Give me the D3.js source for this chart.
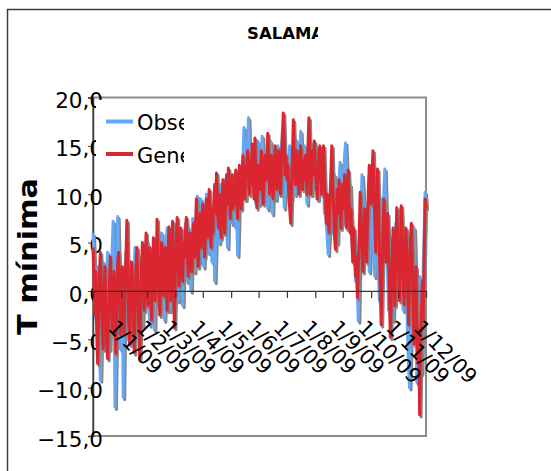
<!DOCTYPE html>
<html><head><meta charset="utf-8">
<script src="https://cdn.jsdelivr.net/npm/d3@7"></script>
<style>html,body{margin:0;padding:0;background:#fff;}svg{display:block;}</style>
</head><body>
<script>
const chartTitle = "SALAMANCA";
const yTitle = "T mínima";
const seriesNames = ["Observada", "Generada"];
const tickLabels = ["1/1/09","1/2/09","1/3/09","1/4/09","1/5/09","1/6/09","1/7/09","1/8/09","1/9/09","1/10/09","1/11/09","1/12/09"];
const yTicks = [-15, -10, -5, 0, 5, 10, 15, 20];

const observed = [
 6.0,3.5,-0.5,-3.0,1.0,2.5,-1.5,-5.5,-9.2,-4.0,0.5,3.0,-1.0,-4.5,-2.5,1.5,4.0,-0.5,-6.0,-3.0,1.0,4.5,7.2,1.0,-12.0,-6.0,2.0,7.7,3.5,-2.5,-6.0,
 -3.0,1.5,-11.0,-4.0,2.5,4.0,-1.0,-5.0,-2.0,3.0,0.5,-3.5,-5.5,-1.0,2.5,4.5,1.0,-2.5,-4.5,0.0,3.5,1.5,-2.0,-3.5,1.0,4.0,2.0,-1.5,
 5.1,2.0,-1.5,-3.5,0.5,3.5,1.0,-2.5,-4.0,0.0,4.0,5.5,2.0,-1.0,1.5,4.5,6.0,3.0,-0.5,-3.0,1.0,5.0,6.5,3.5,0.5,-2.0,2.5,5.5,7.0,3.0,-1.5,
 1.0,4.5,2.0,-1.0,3.0,6.0,4.0,0.5,-1.5,2.5,5.5,7.0,4.0,1.0,3.5,6.5,3.0,0.0,4.0,7.5,5.0,2.0,4.5,8.0,9.8,6.0,3.0,5.5,9.5,7.0,
 5.0,2.5,6.0,8.5,10.0,7.0,4.0,6.5,9.0,5.5,3.0,6.0,8.5,1.0,4.5,7.5,10.5,8.0,5.0,7.0,11.0,9.0,6.0,8.5,11.5,9.5,7.0,4.5,8.0,11.0,12.0,
 9.0,7.0,10.5,12.0,9.5,6.5,8.0,3.7,7.5,11.0,9.0,12.5,10.0,14.0,16.9,12.0,9.5,13.0,15.0,17.9,14.0,11.0,13.5,10.5,12.5,14.5,11.0,9.0,13.0,15.5,
 12.0,9.0,11.5,14.5,16.0,13.0,10.5,12.0,14.0,11.0,8.5,10.0,13.5,15.5,12.5,8.0,11.0,14.0,12.0,9.5,13.0,15.0,11.5,10.0,12.5,14.5,16.5,13.0,8.6,11.0,13.5,
 12.0,10.0,13.5,15.0,12.5,9.5,11.0,14.0,12.0,10.0,13.0,15.5,14.0,11.5,13.5,16.5,14.0,11.0,12.5,15.0,13.0,10.5,9.0,12.0,14.5,15.5,13.0,10.0,12.0,14.0,11.0,
 13.0,15.0,12.0,9.5,11.5,14.0,12.5,10.0,13.0,11.0,8.0,9.5,7.0,5.5,3.8,6.0,9.0,11.0,8.5,6.0,9.5,12.0,10.0,7.5,5.0,8.0,11.5,13.3,10.0,7.0,
 9.0,12.0,14.0,15.3,13.0,10.0,7.5,9.0,11.0,8.0,5.5,3.0,6.0,4.0,1.0,2.5,0.0,-3.1,1.5,5.0,8.5,12.0,10.5,7.0,4.0,6.5,9.0,7.5,4.5,2.0,5.0,
 8.0,10.5,7.0,4.0,1.5,5.0,8.5,6.0,2.5,-1.0,3.0,7.0,9.5,6.5,10.5,12.6,9.0,5.5,2.0,-2.0,1.5,5.5,3.0,0.0,-3.0,1.0,4.5,7.0,5.0,2.0,
 4.0,7.0,8.5,5.0,1.0,-2.0,2.5,6.0,3.5,-1.5,-5.0,-8.0,-10.0,-6.0,-2.0,1.0,4.5,6.5,3.0,-3.5,-9.5,-7.0,-2.5,1.5,-4.0,-8.5,-3.0,2.5,6.0,10.2,8.5
];

const generated = [
 4.5,1.0,-2.5,2.0,-4.0,-7.5,-3.0,1.5,4.0,0.5,-3.5,-6.0,-1.0,2.5,-2.0,-5.5,-7.0,-2.5,1.0,3.5,-1.5,-4.0,0.0,2.0,-3.0,-6.5,-1.0,3.0,4.0,0.5,-4.5,
 -2.0,2.5,-1.0,-4.5,1.0,3.5,7.3,2.0,-3.0,-5.5,0.0,3.0,1.5,-2.5,-6.4,-2.0,2.0,4.5,0.5,-3.5,-7.0,-1.5,2.5,5.0,1.0,-2.0,3.0,6.0,
 2.0,-1.5,1.5,4.5,0.5,-3.0,2.0,5.5,3.0,-1.0,2.5,7.4,4.0,0.0,-2.5,1.5,5.0,3.0,-0.5,2.0,4.5,1.0,-2.0,3.5,6.6,2.5,-1.0,4.0,7.2,1.0,-3.8,
 2.5,5.0,7.6,3.0,0.5,4.0,6.5,2.5,1.0,5.0,3.5,6.0,7.6,4.0,1.5,3.0,6.0,4.5,2.0,5.5,7.0,3.5,6.5,9.5,5.0,2.5,6.0,8.0,4.5,7.5,
 9.0,6.0,3.5,7.0,9.5,5.5,8.0,10.5,7.0,4.5,8.5,6.0,9.0,11.0,8.0,12.2,9.5,6.5,10.0,7.5,5.5,9.0,11.5,8.5,6.0,10.0,12.0,9.0,12.7,10.0,7.5,
 10.0,12.0,8.5,11.0,9.0,12.5,10.0,7.5,11.0,13.0,10.5,8.5,12.0,14.0,11.0,9.5,13.0,12.0,14.5,11.5,10.0,13.5,11.0,15.2,12.5,9.5,15.8,12.0,8.6,11.0,
 13.0,10.5,12.5,14.5,11.0,9.0,12.0,14.0,11.5,13.0,16.3,13.5,10.0,12.0,14.0,11.5,9.5,12.5,15.0,13.0,10.5,12.0,14.5,12.0,10.0,13.5,16.0,18.4,15.5,12.0,14.0,
 11.5,13.0,10.0,8.5,7.0,11.0,14.0,17.7,13.5,11.0,12.5,14.5,12.0,10.0,13.0,15.0,12.5,10.5,13.5,11.5,14.0,12.0,10.0,15.0,17.9,14.0,10.0,12.5,14.5,12.0,15.5,
 13.0,11.0,9.5,12.0,14.5,15.0,12.0,10.0,13.5,15.0,11.5,9.0,7.0,10.0,8.0,6.0,9.5,12.0,15.0,11.0,8.5,5.5,4.3,7.5,10.5,8.0,11.5,9.0,6.5,10.0,
 11.0,8.5,12.0,9.5,6.5,10.5,12.5,9.0,6.0,8.5,5.0,3.0,6.5,4.0,1.5,3.5,-0.7,2.5,6.0,10.2,7.5,4.5,2.0,5.5,8.5,6.0,3.0,7.0,10.5,13.0,11.0,
 9.0,12.0,14.5,11.0,7.5,4.0,8.0,12.6,9.0,4.5,0.0,-3.5,1.5,6.0,9.5,7.0,3.0,5.5,8.0,4.0,-0.5,-4.8,-1.0,3.5,6.5,2.0,-1.5,4.0,8.6,5.5,
 2.0,-1.0,3.5,8.8,6.0,1.5,-1.4,3.0,6.5,4.0,0.0,-3.5,1.5,5.5,7.0,3.0,-2.0,-5.5,-1.0,2.5,-3.0,-7.5,-4.0,-12.8,-6.0,-2.0,1.0,-3.0,4.0,9.5,8.5
];

const W = 551, H = 471;
const plot = {left: 93, right: 426, top: 97.5, bottom: 436};
const parseLabel = d3.timeParse("%d/%m/%y");
const start = new Date(2009, 0, 1);
const dates = observed.map((v, i) => d3.timeDay.offset(start, i));

const svg = d3.select("body").append("svg").attr("width", W).attr("height", H);
svg.append("rect").attr("width", W).attr("height", H).attr("fill", "#fff");

// outer chart border
svg.append("rect").attr("x", 7.5).attr("y", 9.5).attr("width", 580).attr("height", 520)
  .attr("fill", "none").attr("stroke", "#3c3c3c").attr("stroke-width", 1.5);

const defs = svg.append("defs");
defs.append("clipPath").attr("id", "titleClip").append("rect")
  .attr("x", 200).attr("y", 15).attr("width", 118).attr("height", 40);
defs.append("clipPath").attr("id", "legendClip").append("rect")
  .attr("x", 96).attr("y", 100).attr("width", 88).attr("height", 75);

svg.append("text").attr("clip-path", "url(#titleClip)")
  .attr("x", 247).attr("y", 39)
  .attr("font-family", "DejaVu Sans").attr("font-weight", "bold").attr("font-size", 16.5)
  .attr("fill", "#000").text(chartTitle);

const x = d3.scaleTime().domain([start, new Date(2009, 11, 31)]).range([plot.left, plot.right]);
const y = d3.scaleLinear().domain([-15, 20]).range([plot.bottom, plot.top]);

// plot frame
svg.append("rect").attr("x", plot.left).attr("y", plot.top)
  .attr("width", plot.right - plot.left).attr("height", plot.bottom - plot.top)
  .attr("fill", "none").attr("stroke", "#8c8c8c").attr("stroke-width", 2);

// y axis
const yAxis = svg.append("g").attr("transform", `translate(${plot.left},0)`)
  .call(d3.axisLeft(y).tickValues(yTicks).tickSize(5).tickPadding(-15)
    .tickFormat(d => d3.format(".1f")(d).replace(".", ",")));
yAxis.select(".domain").attr("stroke", "#404040").attr("stroke-width", 1.5);
yAxis.selectAll(".tick line").attr("stroke", "#404040");
yAxis.selectAll(".tick text").attr("font-family", "DejaVu Sans").attr("font-size", 21.5)
  .attr("fill", "#000").attr("dy", "0.47em");

// series with shadows
const line = d3.line().x((d, i) => x(dates[i])).y(d => y(d));
const series = [
  {values: observed, color: "#63a8f7"},
  {values: generated, color: "#da2630"}
];
series.forEach(s => {
  svg.append("path").attr("d", line(s.values)).attr("fill", "none")
    .attr("stroke", "#858585").attr("stroke-width", 3).attr("stroke-linejoin", "round")
    .attr("transform", "translate(1.5,2.4)");
  svg.append("path").attr("d", line(s.values)).attr("fill", "none")
    .attr("stroke", s.color).attr("stroke-width", 3).attr("stroke-linejoin", "round");
});

// x axis at zero
const tickDates = tickLabels.map(parseLabel);
const xAxis = svg.append("g").attr("transform", `translate(0,${y(0)})`)
  .call(d3.axisBottom(x).tickValues(tickDates).tickSize(7).tickFormat(""));
xAxis.select(".domain").attr("stroke", "#333").attr("stroke-width", 1.3);
xAxis.selectAll(".tick line").attr("stroke", "#333").attr("stroke-width", 1.2);

// rotated date labels
svg.append("g").selectAll("text").data(tickDates).join("text")
  .attr("transform", d => `translate(${x(d) + 14},329) rotate(45)`)
  .attr("font-family", "DejaVu Sans").attr("font-size", 20.5).attr("fill", "#000")
  .text((d, i) => tickLabels[i]);

// y title
svg.append("text").attr("transform", "translate(37,256.5) rotate(-90)")
  .attr("text-anchor", "middle")
  .attr("font-family", "DejaVu Sans").attr("font-weight", "bold").attr("font-size", 26)
  .attr("textLength", 157).attr("lengthAdjust", "spacingAndGlyphs")
  .attr("fill", "#000").text(yTitle);

// legend
const lg = svg.append("g").attr("clip-path", "url(#legendClip)");
lg.append("rect").attr("x", 96).attr("y", 100).attr("width", 88).attr("height", 75).attr("fill", "#fff");
series.forEach((s, i) => {
  const ly = 121.5 + i * 32.5;
  lg.append("line").attr("x1", 106).attr("x2", 133).attr("y1", ly).attr("y2", ly)
    .attr("stroke", s.color).attr("stroke-width", 4);
  lg.append("text").attr("x", 137).attr("y", ly + 8.7)
    .attr("font-family", "DejaVu Sans").attr("font-size", 21).attr("fill", "#000")
    .text(seriesNames[i]);
});
</script>
</body></html>
